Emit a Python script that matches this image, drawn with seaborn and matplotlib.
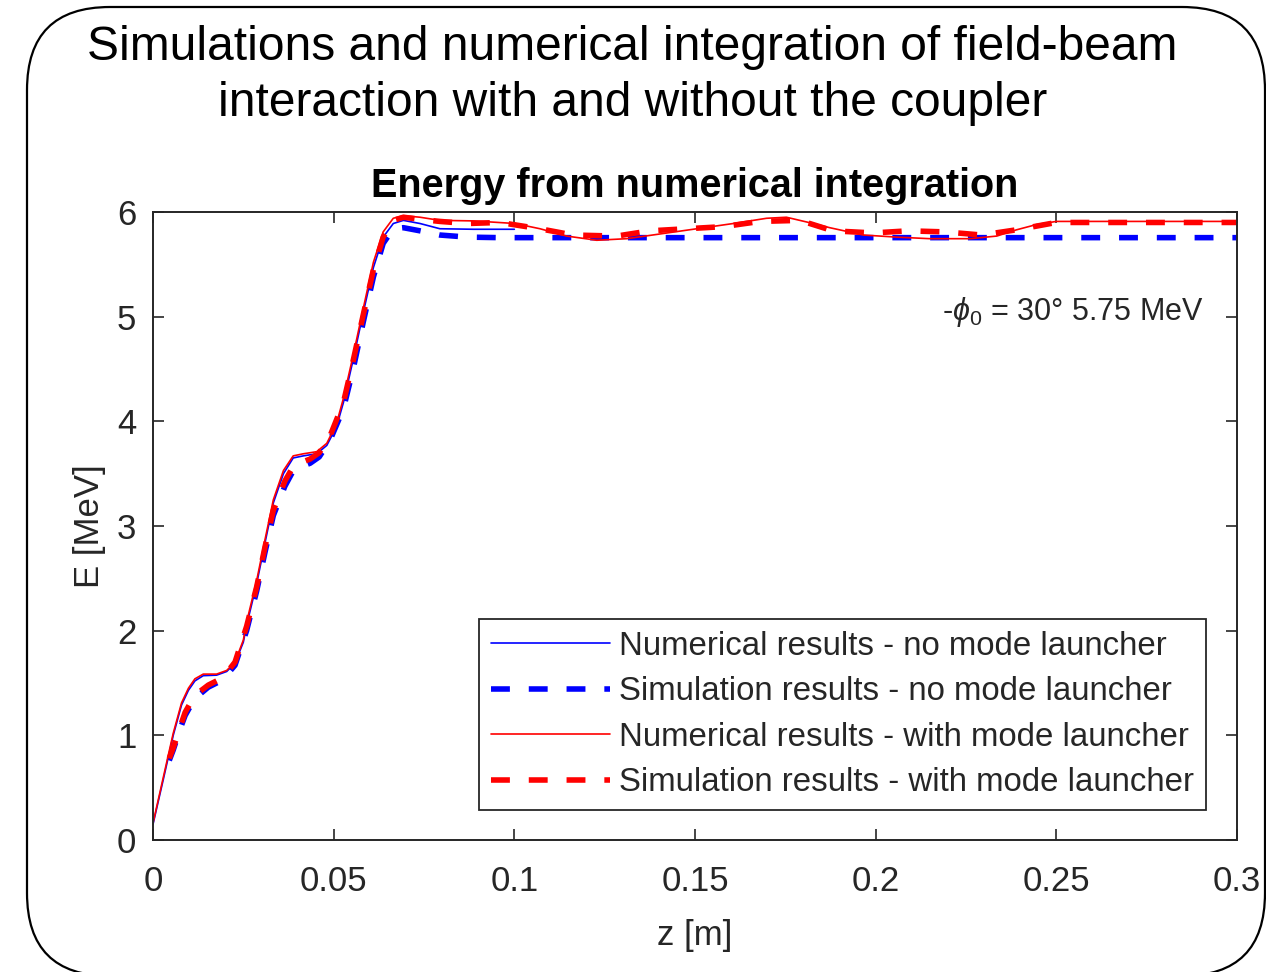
import numpy as np
import pandas as pd
import matplotlib
matplotlib.use("Agg")
import matplotlib.pyplot as plt
from matplotlib.patches import FancyBboxPatch
from matplotlib.transforms import IdentityTransform
import seaborn as sns

# ---------------- data ----------------
z_num_ml = [0, 0.00286, 0.0056, 0.0079, 0.0098, 0.0116, 0.0139, 0.0176, 0.0204, 0.0227,
            0.025, 0.0259, 0.0287, 0.031, 0.0333, 0.0361, 0.0388, 0.0416, 0.0453, 0.0481,
            0.0508, 0.0527, 0.0554, 0.0582, 0.061, 0.0637, 0.0665, 0.0693, 0.0739, 0.0794,
            0.0887, 0.1002, 0.1071, 0.1145, 0.1228, 0.1311, 0.1403, 0.1505, 0.1606, 0.1698,
            0.1753, 0.1827, 0.1873, 0.1966, 0.2058, 0.215, 0.2261, 0.2335, 0.239, 0.2445,
            0.25, 0.2666, 0.3]
E_num_ml = [0.16, 0.60, 1.02, 1.31, 1.45, 1.54, 1.585, 1.585, 1.62, 1.70,
            1.91, 2.08, 2.48, 2.87, 3.25, 3.53, 3.67, 3.69, 3.71, 3.79,
            3.98, 4.22, 4.63, 5.08, 5.52, 5.81, 5.94, 5.965, 5.95, 5.92,
            5.915, 5.89, 5.84, 5.77, 5.73, 5.745, 5.79, 5.84, 5.89, 5.94,
            5.95, 5.89, 5.85, 5.78, 5.76, 5.745, 5.745, 5.77, 5.83, 5.88,
            5.91, 5.91, 5.91]

z_num_noml = [0, 0.00286, 0.0056, 0.0079, 0.0098, 0.0116, 0.0139, 0.0176, 0.0204, 0.0227,
              0.025, 0.0259, 0.0287, 0.031, 0.0333, 0.0361, 0.0388, 0.0416, 0.0453, 0.0481,
              0.0508, 0.0527, 0.0554, 0.0582, 0.061, 0.0637, 0.0665, 0.0693, 0.0739, 0.0794,
              0.0887, 0.1]
E_num_noml = [0.15, 0.58, 1.00, 1.29, 1.43, 1.52, 1.57, 1.575, 1.61, 1.69,
              1.89, 2.05, 2.45, 2.84, 3.22, 3.50, 3.65, 3.67, 3.69, 3.77,
              3.95, 4.18, 4.59, 5.04, 5.47, 5.76, 5.89, 5.92, 5.89, 5.84,
              5.835, 5.835]

z_sim = [0.0045, 0.0056, 0.0075, 0.0089, 0.0115, 0.0153, 0.0176, 0.020, 0.0227, 0.0259,
         0.0287, 0.031, 0.0333, 0.0365, 0.039, 0.0435, 0.046, 0.049, 0.0527, 0.0554,
         0.0582, 0.061, 0.0637, 0.0665, 0.0693, 0.0739, 0.0794, 0.087, 0.096, 0.107,
         0.1163, 0.1283, 0.1375, 0.1477, 0.1578, 0.168, 0.179, 0.1882, 0.1993, 0.209,
         0.2192, 0.2293, 0.239, 0.25, 0.27, 0.3]
E_sim_ml = [0.78, 0.88, 1.08, 1.22, 1.38, 1.48, 1.52, 1.58, 1.70, 2.04,
            2.42, 2.80, 3.15, 3.43, 3.58, 3.64, 3.70, 3.86, 4.18, 4.58,
            5.02, 5.45, 5.76, 5.92, 5.95, 5.93, 5.91, 5.89, 5.90, 5.84,
            5.78, 5.77, 5.82, 5.84, 5.86, 5.91, 5.92, 5.82, 5.80, 5.82,
            5.81, 5.78, 5.83, 5.90, 5.90, 5.90]
E_sim_noml = [0.76, 0.86, 1.06, 1.19, 1.35, 1.46, 1.50, 1.56, 1.67, 2.00,
              2.38, 2.75, 3.10, 3.38, 3.54, 3.60, 3.66, 3.82, 4.12, 4.50,
              4.95, 5.38, 5.70, 5.84, 5.85, 5.82, 5.78, 5.76, 5.755, 5.755,
              5.755, 5.755, 5.755, 5.755, 5.755, 5.755, 5.755, 5.755, 5.755, 5.755,
              5.755, 5.755, 5.755, 5.755, 5.755, 5.755]

legend_labels = ["Numerical results - no mode launcher",
                 "Simulation results - no mode launcher",
                 "Numerical results - with mode launcher",
                 "Simulation results - with mode launcher"]
x_ticks = [0, 0.05, 0.1, 0.15, 0.2, 0.25, 0.3]
x_tick_labels = ["0", "0.05", "0.1", "0.15", "0.2", "0.25", "0.3"]
y_ticks = [0, 1, 2, 3, 4, 5, 6]

fig_title_1 = "Simulations and numerical integration of field-beam"
fig_title_2 = "interaction with and without the coupler"
ax_title = "Energy from numerical integration"
annotation = r"-$\phi_0$ = 30° 5.75 MeV"

# ---------------- style ----------------
sns.set_theme(style="white")
plt.rcParams["font.family"] = ["Liberation Sans", "DejaVu Sans"]
plt.rcParams["mathtext.fontset"] = "custom"
plt.rcParams["mathtext.it"] = "Liberation Sans:italic"
plt.rcParams["mathtext.rm"] = "Liberation Sans"

GRAY = "#262626"
fig = plt.figure(figsize=(12.66, 9.72), dpi=100)
fig.patch.set_facecolor("white")

# rounded frame around everything (pixel coords)
frame = FancyBboxPatch((27, -4), 1238, 969, boxstyle="round,pad=0,rounding_size=83",
                       transform=IdentityTransform(), fill=False, edgecolor="black",
                       linewidth=1.6)
fig.patches.append(frame)

fig.text(0.4995, 1 - 47 / 972, fig_title_1, ha="center", va="center",
         fontsize=34.5, color="black")
fig.text(0.4995, 1 - 104 / 972, fig_title_2, ha="center", va="center",
         fontsize=34.5, color="black")

ax = fig.add_axes([153 / 1266, (972 - 840) / 972, (1237 - 153) / 1266, (840 - 212) / 972])

df1 = pd.DataFrame({"z": z_num_noml, "E": E_num_noml})
df2 = pd.DataFrame({"z": z_sim, "E": E_sim_noml})
df3 = pd.DataFrame({"z": z_num_ml, "E": E_num_ml})
df4 = pd.DataFrame({"z": z_sim, "E": E_sim_ml})

sns.lineplot(data=df1, x="z", y="E", ax=ax, color="#0000ff", lw=1.2, errorbar=None)
sns.lineplot(data=df2, x="z", y="E", ax=ax, color="#0000ff", lw=4.0, errorbar=None,
             linestyle="--")
sns.lineplot(data=df3, x="z", y="E", ax=ax, color="#ff0000", lw=1.2, errorbar=None)
sns.lineplot(data=df4, x="z", y="E", ax=ax, color="#ff0000", lw=4.0, errorbar=None,
             linestyle="--")
lines = ax.get_lines()
for ln in (lines[1], lines[3]):
    ln.set_dashes([3.4, 3.4])
    ln.set_dash_capstyle("butt")

ax.set_xlim(0, 0.3)
ax.set_ylim(0, 6)
ax.set_xticks(x_ticks)
ax.set_xticklabels(x_tick_labels)
ax.set_yticks(y_ticks)
ax.tick_params(axis="both", direction="in", length=8, width=1.2, colors=GRAY,
               labelsize=25, top=True, right=True, bottom=True, left=True)
ax.tick_params(axis="x", pad=18)
ax.tick_params(axis="y", pad=12)
for sp in ax.spines.values():
    sp.set_visible(True)
    sp.set_color(GRAY)
    sp.set_linewidth(1.4)

ax.set_xlabel("z [m]", fontsize=25, color=GRAY, labelpad=15)
ax.set_ylabel("E [MeV]", fontsize=25, color=GRAY, labelpad=8)
ax.set_title(ax_title, fontsize=28.5, fontweight="bold", color="black", pad=11)

ax.text(0.2184, 5.04, annotation, fontsize=22, color=GRAY, ha="left", va="center")

leg = ax.legend(handles=lines, labels=legend_labels, loc="lower right",
                bbox_to_anchor=(0.9714, 0.0478), borderaxespad=0, fontsize=23.8,
                handlelength=3.6, handletextpad=0.3, labelspacing=0.44,
                borderpad=0.35, fancybox=False, framealpha=1, edgecolor=GRAY)
leg.get_frame().set_linewidth(1.3)
for t in leg.get_texts():
    t.set_color(GRAY)

fig.savefig("out.png", dpi=100)
